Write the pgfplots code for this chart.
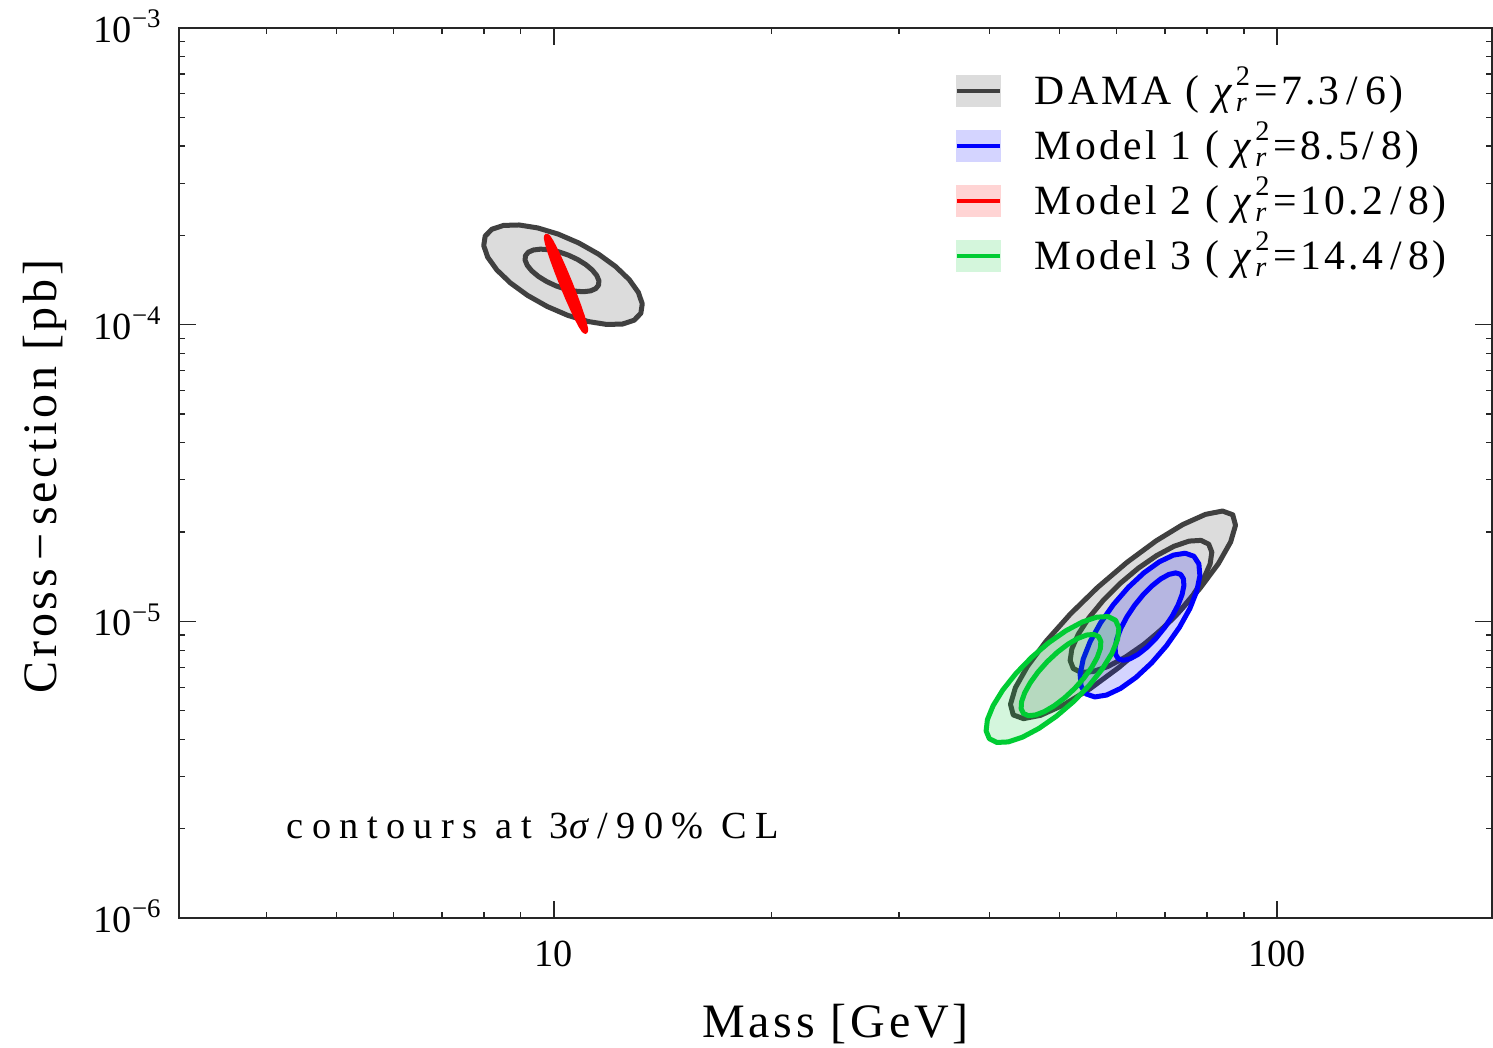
\documentclass[border=0pt]{standalone}
\usepackage{fontspec}
\usepackage{amsmath}
\setmainfont{Liberation Serif}
\usepackage{pgfplots}
\pgfplotsset{compat=1.18}

\definecolor{damaline}{HTML}{404040}
\definecolor{damafill}{HTML}{DCDCDC}
\definecolor{mgreen}{RGB}{0,204,51}

\newcommand\legendfont{\fontsize{12.5}{14}\selectfont\addfontfeatures{LetterSpace=8}}
\newcommand\labelfont{\fontsize{14.4}{17}\selectfont\addfontfeatures{LetterSpace=8}}
\newcommand\tickfont{\fontsize{11.5}{13}\selectfont}
\newcommand\notefont{\fontsize{11.5}{13}\selectfont\addfontfeatures{LetterSpace=22}}
\newcommand\scr{\fontsize{8.5}{9}\selectfont}
\newcommand\chisq{\textit{χ}\rlap{\raisebox{5.5pt}{\scr 2}}\raisebox{-2.1pt}{\scr\textit{r}}\hspace{1.5pt}}

% axes are in decades: x = log10(mass / GeV), y = log10(cross-section / pb)
\begin{document}
\begin{tikzpicture}
\begin{axis}[
  scale only axis, width=393.9pt, height=267pt,
  xmin=0.48133, xmax=2.29737, ymin=-6, ymax=-3,
  xtick={1,2}, xticklabels={10,100},
  minor xtick={0.60206,0.69897,0.77815,0.84510,0.90309,0.95424,
               1.30103,1.47712,1.60206,1.69897,1.77815,1.84510,1.90309,1.95424},
  ytick={-6,-5,-4,-3},
  yticklabels={10\textsuperscript{−6},10\textsuperscript{−5},10\textsuperscript{−4},10\textsuperscript{−3}},
  minor ytick={-5.69897,-5.52288,-5.39794,-5.30103,-5.22185,-5.15490,-5.09691,-5.04576,
               -4.69897,-4.52288,-4.39794,-4.30103,-4.22185,-4.15490,-4.09691,-4.04576,
               -3.69897,-3.52288,-3.39794,-3.30103,-3.22185,-3.15490,-3.09691,-3.04576},
  tick align=inside,
  major tick length=5pt, minor tick length=1.8pt,
  every tick/.style={black!85, line width=0.35pt},
  axis line style={black!85, line width=0.6pt},
  tick label style={font=\tickfont},
  xticklabel style={anchor=base, inner sep=0pt, yshift=-14.4pt},
  yticklabel style={anchor=base east, inner sep=0pt, xshift=-4.8pt, yshift=-4.3pt},
  xlabel={Mass [GeV]},
  ylabel={Cross\,−\,section [pb]},
  every axis x label/.style={at={(axis description cs:0.5,-0.13371)}, anchor=base, inner sep=0pt, font=\labelfont},
  every axis y label/.style={at={(axis description cs:-0.09368,0.4961)}, rotate=90, anchor=base, inner sep=0pt, font=\labelfont},
  legend style={draw=none, fill=none, at={(axis description cs:0.591,0.9558)}, anchor=north west,
    inner sep=0pt, outer sep=0pt, row sep=2pt, font=\legendfont,
    nodes={inner sep=0pt, text height=11pt, text depth=3.5pt}},
  legend cell align=left,
  legend style={/tikz/every odd column/.append style={column sep=9.8pt}},
  contour/.style={line width=1.5pt, line join=round, line cap=round},
]

% ---- DAMA, low-mass region
\addplot[forget plot, contour, draw=damaline, fill=damafill] coordinates {
(1.12011,-3.96175) (1.11079,-3.98502) (1.09476,-3.99786) (1.07314,-3.99935) (1.04738,-3.98942) (1.01922,-3.96874)
(0.99062,-3.93872) (0.96350,-3.90140) (0.93972,-3.85932) (0.92089,-3.81537) (0.90830,-3.77252) (0.90281,-3.73370)
(0.90479,-3.70155) (0.91411,-3.67828) (0.93014,-3.66544) (0.95176,-3.66395) (0.97752,-3.67388) (1.00568,-3.69456)
(1.03428,-3.72458) (1.06140,-3.76190) (1.08518,-3.80398) (1.10401,-3.84793) (1.11660,-3.89078) (1.12209,-3.92960)
(1.12011,-3.96175)};
\addplot[forget plot, contour, draw=damaline] coordinates {
(1.06160,-3.86687) (1.05765,-3.87859) (1.05053,-3.88612) (1.04072,-3.88895) (1.02889,-3.88690) (1.01584,-3.88008)
(1.00247,-3.86899) (0.98968,-3.85436) (0.97835,-3.83720) (0.96926,-3.81867) (0.96301,-3.80004) (0.96003,-3.78257)
(0.96054,-3.76747) (0.96449,-3.75575) (0.97161,-3.74822) (0.98142,-3.74539) (0.99325,-3.74744) (1.00630,-3.75426)
(1.01967,-3.76535) (1.03246,-3.77998) (1.04379,-3.79714) (1.05288,-3.81567) (1.05913,-3.83430) (1.06211,-3.85177)
(1.06160,-3.86687)};

% ---- Model 2
\addplot[forget plot, contour, draw=red, fill=red, fill opacity=0.17] coordinates {
(1.04340,-4.02260) (1.04116,-4.01843) (1.03724,-4.00361) (1.03192,-3.97913) (1.02556,-3.94667) (1.01858,-3.90843)
(1.01147,-3.86702) (1.00470,-3.82527) (0.99876,-3.78601) (0.99402,-3.75194) (0.99082,-3.72537) (0.98938,-3.70809)
(0.98980,-3.70130) (0.99204,-3.70547) (0.99596,-3.72029) (1.00128,-3.74477) (1.00764,-3.77723) (1.01462,-3.81547)
(1.02173,-3.85688) (1.02850,-3.89863) (1.03444,-3.93789) (1.03918,-3.97196) (1.04238,-3.99853) (1.04382,-4.01581)
(1.04340,-4.02260)};
\addplot[forget plot, contour, draw=red] coordinates {
(1.03845,-3.99296) (1.03456,-3.97635) (1.02587,-3.92911) (1.01468,-3.86385) (1.00401,-3.79809) (0.99672,-3.74945)
(0.99475,-3.73094) (0.99864,-3.74755) (1.00733,-3.79479) (1.01852,-3.86005) (1.02919,-3.92581) (1.03648,-3.97445)
(1.03845,-3.99296)};

% ---- DAMA, high-mass region
\addplot[forget plot, contour, draw=damaline, fill=damafill] coordinates {
(1.93878,-4.64074) (1.94264,-4.67631) (1.93588,-4.73245) (1.91899,-4.80531) (1.89310,-4.88996) (1.85997,-4.98063)
(1.82188,-5.07111) (1.78141,-5.15525) (1.74132,-5.22734) (1.70434,-5.28243) (1.67300,-5.31677) (1.64942,-5.32805)
(1.63522,-5.31548) (1.63136,-5.27991) (1.63812,-5.22377) (1.65501,-5.15091) (1.68090,-5.06626) (1.71403,-4.97559)
(1.75212,-4.88511) (1.79259,-4.80097) (1.83268,-4.72888) (1.86966,-4.67379) (1.90100,-4.63945) (1.92458,-4.62817)
(1.93878,-4.64074)};
\addplot[forget plot, contour, draw=damaline] coordinates {
(1.90556,-4.73983) (1.90988,-4.76687) (1.90752,-4.80634) (1.89864,-4.85557) (1.88386,-4.91120) (1.86416,-4.96945)
(1.84091,-5.02633) (1.81568,-5.07797) (1.79018,-5.12086) (1.76618,-5.15208) (1.74528,-5.16948) (1.72892,-5.17189)
(1.71822,-5.15915) (1.71390,-5.13211) (1.71626,-5.09264) (1.72514,-5.04341) (1.73992,-4.98778) (1.75962,-4.92953)
(1.78287,-4.87265) (1.80810,-4.82101) (1.83360,-4.77812) (1.85760,-4.74690) (1.87850,-4.72950) (1.89486,-4.72709)
(1.90556,-4.73983)};

% ---- Model 1
\addplot[forget plot, contour, draw=blue, fill=blue, fill opacity=0.17] coordinates {
(1.88502,-4.78048) (1.89196,-4.80643) (1.89335,-4.84642) (1.88909,-4.89773) (1.87948,-4.95688) (1.86516,-5.01984)
(1.84713,-5.08229) (1.82660,-5.14000) (1.80496,-5.18904) (1.78372,-5.22604) (1.76429,-5.24850) (1.74802,-5.25489)
(1.73600,-5.24478) (1.72906,-5.21883) (1.72767,-5.17884) (1.73193,-5.12753) (1.74154,-5.06838) (1.75586,-5.00542)
(1.77389,-4.94297) (1.79442,-4.88526) (1.81606,-4.83622) (1.83730,-4.79922) (1.85673,-4.77676) (1.87300,-4.77037)
(1.88502,-4.78048)};
\addplot[forget plot, contour, draw=blue] coordinates {
(1.86658,-4.84145) (1.87052,-4.85595) (1.87126,-4.87917) (1.86876,-4.90954) (1.86318,-4.94498) (1.85491,-4.98309)
(1.84451,-5.02125) (1.83269,-5.05687) (1.82024,-5.08754) (1.80804,-5.11115) (1.79690,-5.12609) (1.78758,-5.13135)
(1.78072,-5.12657) (1.77678,-5.11207) (1.77604,-5.08885) (1.77854,-5.05848) (1.78412,-5.02304) (1.79239,-4.98493)
(1.80279,-4.94677) (1.81461,-4.91115) (1.82706,-4.88048) (1.83926,-4.85687) (1.85040,-4.84193) (1.85972,-4.83667)
(1.86658,-4.84145)};

% ---- Model 3
\addplot[forget plot, contour, draw=mgreen, fill=mgreen, fill opacity=0.17] coordinates {
(1.77681,-4.99653) (1.78130,-5.02270) (1.77955,-5.06071) (1.77166,-5.10792) (1.75816,-5.16115) (1.73999,-5.21677)
(1.71837,-5.27098) (1.69479,-5.32009) (1.67084,-5.36075) (1.64817,-5.39019) (1.62831,-5.40641) (1.61262,-5.40830)
(1.60217,-5.39573) (1.59768,-5.36956) (1.59943,-5.33155) (1.60732,-5.28434) (1.62082,-5.23111) (1.63899,-5.17549)
(1.66061,-5.12128) (1.68419,-5.07217) (1.70814,-5.03151) (1.73081,-5.00207) (1.75067,-4.98585) (1.76636,-4.98396)
(1.77681,-4.99653)};
\addplot[forget plot, contour, draw=mgreen] coordinates {
(1.75321,-5.05135) (1.75636,-5.06745) (1.75575,-5.09130) (1.75142,-5.12124) (1.74368,-5.15526) (1.73304,-5.19104)
(1.72024,-5.22613) (1.70614,-5.25814) (1.69170,-5.28490) (1.67793,-5.30457) (1.66573,-5.31582) (1.65596,-5.31787)
(1.64927,-5.31061) (1.64612,-5.29451) (1.64673,-5.27066) (1.65106,-5.24072) (1.65880,-5.20670) (1.66944,-5.17092)
(1.68224,-5.13583) (1.69634,-5.10382) (1.71078,-5.07706) (1.72455,-5.05739) (1.73675,-5.04614) (1.74652,-5.04409)
(1.75321,-5.05135)};

% ---- legend
\addlegendimage{legend image code/.code={
  \fill[damafill] (0pt,-4.5pt) rectangle (12.9pt,4.8pt);
  \draw[damaline, line width=1.2pt] (0pt,0.15pt) -- (12.9pt,0.15pt);}}
\addlegendentry{DAMA ( \chisq=7.3\,/\,6)}
\addlegendimage{legend image code/.code={
  \fill[blue!17] (0pt,-4.5pt) rectangle (12.9pt,4.8pt);
  \draw[blue, line width=1.2pt] (0pt,0.15pt) -- (12.9pt,0.15pt);}}
\addlegendentry{Model 1 ( \chisq=8.5/\,8)}
\addlegendimage{legend image code/.code={
  \fill[red!17] (0pt,-4.5pt) rectangle (12.9pt,4.8pt);
  \draw[red, line width=1.2pt] (0pt,0.15pt) -- (12.9pt,0.15pt);}}
\addlegendentry{Model 2 ( \chisq=10.2\,/\,8)}
\addlegendimage{legend image code/.code={
  \fill[mgreen!17] (0pt,-4.5pt) rectangle (12.9pt,4.8pt);
  \draw[mgreen, line width=1.2pt] (0pt,0.15pt) -- (12.9pt,0.15pt);}}
\addlegendentry{Model 3 ( \chisq=14.4\,/\,8)}

\node[anchor=base west, inner sep=0pt, font=\notefont] at (axis cs:0.62932,-5.73064) {contours at 3\textit{σ}/90\% CL};
\end{axis}
\pgfresetboundingbox
\path[use as bounding box] ([shift={(-53.7pt,-38.7pt)}]current axis.south west) rectangle ([shift={(0.3pt,8.4pt)}]current axis.north east);
\end{tikzpicture}
\end{document}
